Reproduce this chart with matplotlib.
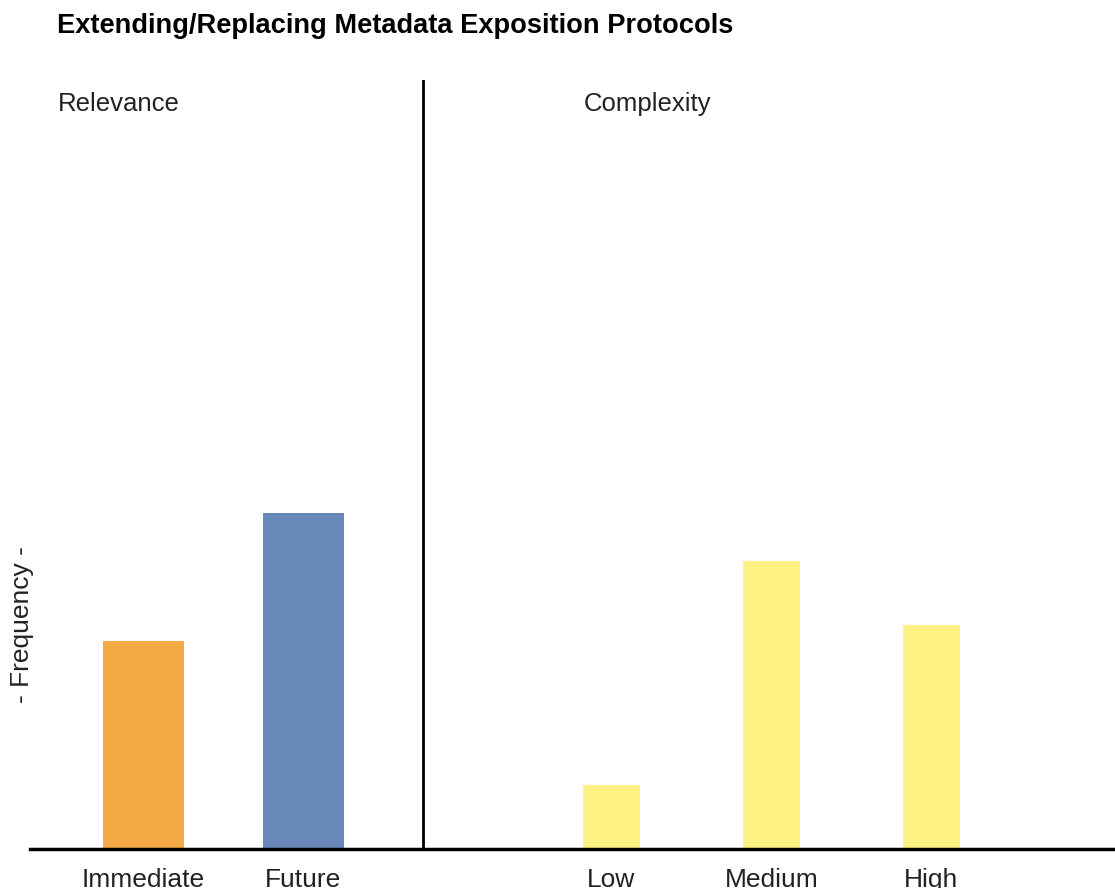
import numpy as np
import matplotlib.pyplot as plt

plt.rcParams['font.family'] = ['Liberation Sans', 'DejaVu Sans']

# data (frequency counts)
rel_labels = ["Immediate", "Future"]
rel_values = [13, 21]
rel_colors = ["#F4AB45", "#6888BA"]

cx_labels = ["Low", "Medium", "High"]
cx_values = [4, 18, 14]
cx_color = "#FFF284"

title = "Extending/Replacing Metadata Exposition Protocols"

# layout (x units: one bar step)
rel_pos = np.arange(len(rel_labels))
cx_pos = 2.925 + np.arange(len(cx_labels))
divider_x = 1.747

fig = plt.figure(figsize=(11.15, 8.88), dpi=100)
ax = fig.add_axes([30 / 1115, (888 - 848.5) / 888, 1 - 30 / 1115, 768 / 888])

ax.bar(rel_pos, rel_values, width=0.506, color=rel_colors)
ax.bar(cx_pos, cx_values, width=0.356, color=cx_color)
ax.axvline(divider_x, color="black", lw=2)

ax.set_xlim(-0.709, 6.072)
ax.set_ylim(0, 48)
for s in ["top", "right", "left"]:
    ax.spines[s].set_visible(False)
ax.spines["bottom"].set_linewidth(2.5)
ax.set_yticks([])
ax.set_xticks(list(rel_pos) + list(cx_pos))
ax.set_xticklabels(rel_labels + cx_labels, fontsize=19, color="#222222")
ax.tick_params(axis="x", length=0, pad=14)

fig.text(57 / 1115, 1 - 26 / 888, title, fontsize=19.6, fontweight="bold",
         va="center", ha="left")
fig.text(58 / 1115, 1 - 104 / 888, "Relevance", fontsize=18.5, va="center",
         ha="left", color="#222222")
fig.text(584 / 1115, 1 - 104 / 888, "Complexity", fontsize=18.5, va="center",
         ha="left", color="#222222")
fig.text(22 / 1115, 1 - 625 / 888, "- Frequency -", fontsize=19, rotation=90,
         va="center", ha="center", color="#222222")

fig.savefig("out.png", dpi=100)
